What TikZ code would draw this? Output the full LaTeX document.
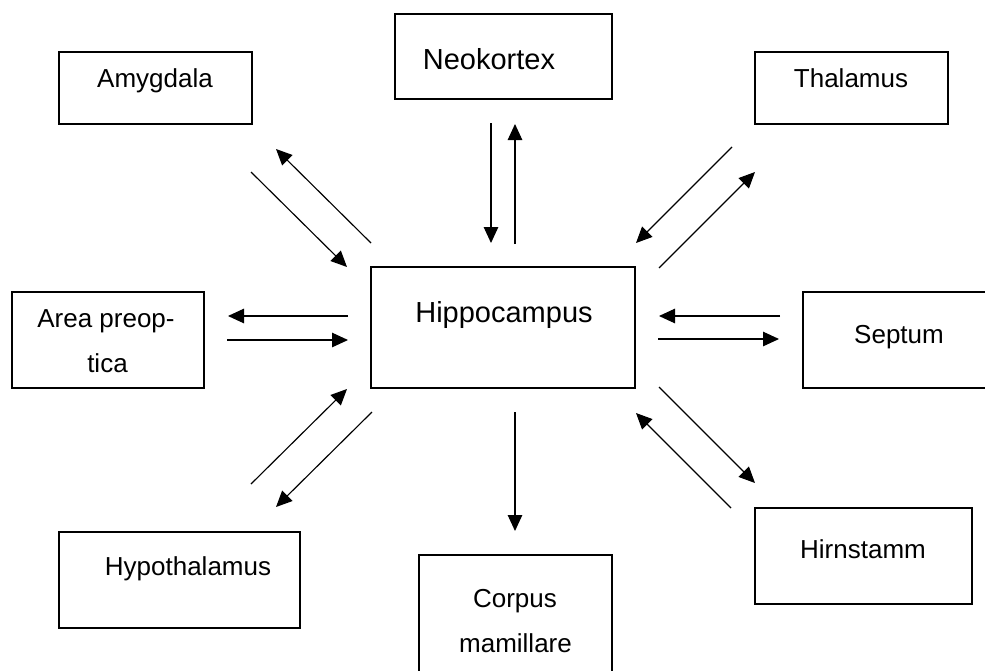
\documentclass[tikz,border=0pt]{standalone}
\usepackage{fontspec}
\setmainfont{Liberation Sans}
\usetikzlibrary{arrows.meta}
\tikzset{
  box/.style={draw, line width=1.2pt, rectangle, inner sep=0pt},
  lbl/.style={anchor=base, inner sep=0pt, font=\fontsize{26}{31}\selectfont},
  biglbl/.style={anchor=base, inner sep=0pt, font=\fontsize{29}{34}\selectfont},
  conn/.style={line width=1.15pt, -{Triangle[length=16pt, width=14.5pt]}}
}
\begin{document}
\begin{tikzpicture}[x=1pt, y=-1pt]
\useasboundingbox (0,0) rectangle (985,670);
\clip (0,0) rectangle (985,670);
% boxes
\node[box, minimum width=193pt, minimum height=72pt] (amyg) at (155.5,88) {};
\node[box, minimum width=217pt, minimum height=85pt] (neo) at (503.5,56.5) {};
\node[box, minimum width=193pt, minimum height=72pt] (thal) at (851.5,88) {};
\node[box, minimum width=192pt, minimum height=96pt] (area) at (108,340) {};
\node[box, minimum width=264pt, minimum height=121pt] (hippo) at (503,327.5) {};
\node[box, minimum width=187pt, minimum height=96pt] (sept) at (896.5,340) {};
\node[box, minimum width=241pt, minimum height=96pt] (hypo) at (179.5,580) {};
\node[box, minimum width=193pt, minimum height=125pt] (corp) at (515.5,617.5) {};
\node[box, minimum width=217pt, minimum height=96pt] (hirn) at (863.5,556) {};
% texts
\node[lbl] (amygT) at (155,87) {Amygdala};
\node[biglbl] (neoT) at (489,69) {Neokortex};
\node[lbl] (thalT) at (851,87) {Thalamus};
\node[lbl] (areaT1) at (106,327) {Area preop-};
\node[lbl] (areaT2) at (107.5,372) {tica};
\node[biglbl] (hippoT) at (504,322) {Hippocampus};
\node[lbl] (septT) at (899,343) {Septum};
\node[lbl] (hypoT) at (188,575) {Hypothalamus};
\node[lbl] (corpT1) at (515,607) {Corpus};
\node[lbl] (corpT2) at (515.5,652) {mamillare};
\node[lbl] (hirnT) at (863,558) {Hirnstamm};
% connector end points
\coordinate (a1s) at (251,172); \coordinate (a1e) at (347,267);
\coordinate (a2s) at (371,243); \coordinate (a2e) at (276,149);
\coordinate (n1s) at (491,123); \coordinate (n1e) at (491,243);
\coordinate (n2s) at (515,244); \coordinate (n2e) at (515,124);
\coordinate (t1s) at (732,147); \coordinate (t1e) at (636,243);
\coordinate (t2s) at (659,268); \coordinate (t2e) at (755,172);
\coordinate (p1s) at (348,316); \coordinate (p1e) at (228,316);
\coordinate (p2s) at (227,340); \coordinate (p2e) at (348,340);
\coordinate (s1s) at (780,316); \coordinate (s1e) at (659,316);
\coordinate (s2s) at (658,339); \coordinate (s2e) at (779,339);
\coordinate (h1s) at (251,484); \coordinate (h1e) at (347,389);
\coordinate (h2s) at (372,412); \coordinate (h2e) at (276,507);
\coordinate (c1s) at (515,412); \coordinate (c1e) at (515,531);
\coordinate (b1s) at (659,387); \coordinate (b1e) at (755,483);
\coordinate (b2s) at (731,508); \coordinate (b2e) at (636,413);
% connectors
\draw[conn] (a1s) -- (a1e);
\draw[conn] (a2s) -- (a2e);
\draw[conn] (n1s) -- (n1e);
\draw[conn] (n2s) -- (n2e);
\draw[conn] (t1s) -- (t1e);
\draw[conn] (t2s) -- (t2e);
\draw[conn] (p1s) -- (p1e);
\draw[conn] (p2s) -- (p2e);
\draw[conn] (s1s) -- (s1e);
\draw[conn] (s2s) -- (s2e);
\draw[conn] (h1s) -- (h1e);
\draw[conn] (h2s) -- (h2e);
\draw[conn] (c1s) -- (c1e);
\draw[conn] (b1s) -- (b1e);
\draw[conn] (b2s) -- (b2e);
\end{tikzpicture}
\end{document}
